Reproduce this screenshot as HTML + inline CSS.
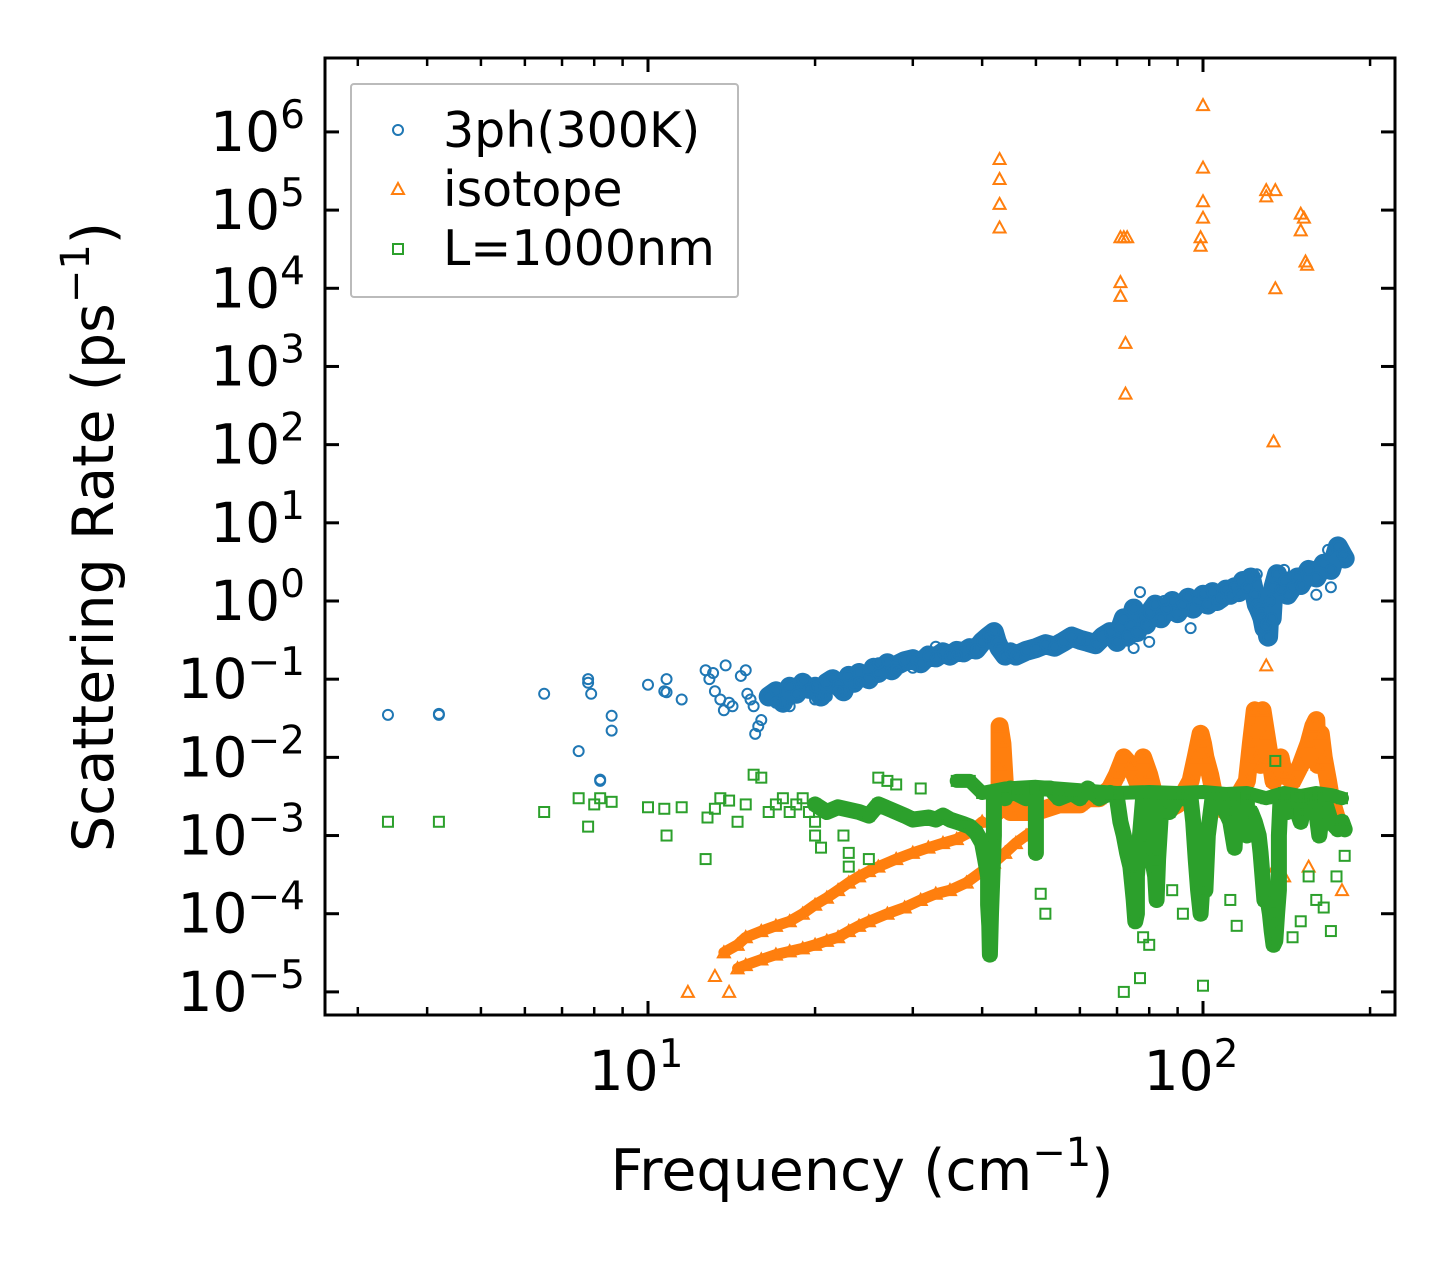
<!DOCTYPE html>
<html><head><meta charset="utf-8"><style>
html,body{margin:0;padding:0;background:#fff;}
svg{display:block;font-family:"DejaVu Sans","Liberation Sans",sans-serif;}
</style></head><body>
<svg id="chart" width="1455" height="1265" viewBox="0 0 1455 1265" xmlns="http://www.w3.org/2000/svg">
<rect width="1455" height="1265" fill="#fff"/>
<g id="marks"></g>
<g id="axes"></g>
<g>
<rect x="351" y="84" width="387" height="213" fill="#fff" stroke="#bbb" stroke-width="2" rx="3"/>
<circle cx="398" cy="130" r="5" fill="none" stroke="#1f77b4" stroke-width="2"/>
<text x="443" y="147" font-size="49">3ph(300K)</text>
<polygon points="398,183 404,194 392,194" fill="none" stroke="#ff7f0e" stroke-width="2"/>
<text x="443" y="206" font-size="49">isotope</text>
<rect x="393" y="244" width="10" height="10" fill="none" stroke="#2ca02c" stroke-width="2"/>
<text x="443" y="265" font-size="49">L=1000nm</text>
</g>
<text x="862" y="1190" font-size="57" text-anchor="middle">Frequency (cm<tspan font-size="40" dy="-24">−1</tspan><tspan dy="24">)</tspan></text>
<text transform="translate(113,537) rotate(-90)" font-size="57" text-anchor="middle">Scattering Rate (ps<tspan font-size="40" dy="-24">−1</tspan><tspan dy="24">)</tspan></text>
</svg>
<script>
const phScatter=[[3.4,0.035],[4.2,0.036],[4.2,0.035],[6.5,0.065],[7.5,0.012],[7.8,0.09],[7.8,0.1],[7.9,0.065],[8.2,0.005],[8.2,0.0052],[8.6,0.034],[8.6,0.022],[10,0.085],[10.7,0.07],[10.8,0.1],[10.8,0.068],[11.5,0.055],[12.7,0.13],[12.9,0.1],[13.1,0.12],[13.2,0.07],[13.5,0.055],[13.8,0.15],[13.7,0.04],[14,0.05],[14.2,0.045],[14.7,0.11],[15,0.13],[15.1,0.065],[15.3,0.055],[15.5,0.045],[15.6,0.02],[15.8,0.025],[16,0.03],[77,1.3],[168,4.5],[17,0.05],[18,0.045],[19,0.1],[20,0.055],[21,0.06],[22,0.07],[24,0.09],[26,0.16],[28,0.13],[30,0.14],[33,0.26],[36,0.2],[75,0.25],[80,0.3],[95,0.45],[85,1],[125,2.2],[140,2.5],[160,1.2],[170,1.5]];
const phDense=[[16.5,0.06],[17,0.07],[17.5,0.05],[18,0.08],[18.5,0.065],[19,0.09],[19.5,0.075],[20,0.08],[20.5,0.06],[21,0.09],[21.5,0.1],[22,0.085],[22.5,0.07],[23,0.11],[23.5,0.09],[24,0.12],[25,0.1],[25.5,0.14],[26,0.12],[27,0.16],[27.5,0.13],[28,0.15],[29,0.17],[30,0.18],[31,0.16],[32,0.2],[33,0.19],[34,0.22],[35,0.2],[36,0.23],[37,0.22],[38,0.25],[39,0.24],[40,0.3],[41,0.35],[42,0.4],[42.5,0.3],[43,0.25],[44,0.2],[45,0.22],[46,0.2],[48,0.23],[50,0.25],[52,0.28],[54,0.26],[56,0.3],[58,0.35],[60,0.32],[62,0.3],[64,0.28],[66,0.35],[68,0.4],[70,0.3],[71,0.45],[72,0.6],[73,0.35],[74,0.5],[75,0.8],[76,0.4],[78,0.6],[79,0.5],[80,0.7],[82,0.9],[84,0.6],[86,0.8],[88,1],[90,0.7],[92,0.9],[94,1.1],[96,0.8],[98,1],[100,1.2],[102,0.9],[104,1.3],[106,1],[108,1.1],[110,1.4],[112,1.2],[114,1.5],[116,1.3],[118,1.8],[120,1.5],[122,2],[124,1.2],[125,0.9],[126,0.8],[127,0.7],[128,0.6],[129,0.45],[130,0.5],[131,0.35],[132,1],[133,0.6],[134,1.5],[136,2.2],[138,1.4],[140,1.8],[142,1.2],[145,1.5],[148,2],[150,1.6],[155,2.5],[160,2],[165,3],[170,2.5],[175,5],[178,4],[180,3.5]];
const isoScatter=[[43,4.5e5],[43,2.5e5],[43,1.2e5],[43,6e4],[71,4.5e4],[72,4.5e4],[73,4.5e4],[71,1.2e4],[71,8e3],[72.5,2e3],[72.5,450],[100,2.2e6],[100,3.5e5],[100,1.3e5],[100,8e4],[99,4.5e4],[99,3.5e4],[130,1.8e5],[130,1.5e5],[135,1.8e5],[135,1e4],[134,110],[130,0.15],[150,9e4],[150,5.5e4],[152,8e4],[153,2.2e4],[154,2e4],[11.8,1e-5],[13.2,1.6e-5],[14,1e-5],[178,2e-4],[140,3e-4],[135,4e-4],[155,4e-4]];
const isoBranchA=[[13.7,3.2e-5],[14.5,4e-5],[15,5e-5],[16,6e-5],[17,7e-5],[18,8e-5],[19,1e-4],[20,1.3e-4],[21,1.6e-4],[22,2e-4],[23,2.5e-4],[24,3e-4],[25,3.5e-4],[26,4e-4],[28,5e-4],[30,6e-4],[32,7e-4],[34,8e-4],[36,9e-4],[38,1.1e-3],[40,1.5e-3]];
const isoBranchB=[[14.5,2e-5],[15,2.2e-5],[16,2.6e-5],[17,3e-5],[18,3.3e-5],[19,3.6e-5],[20,4e-5],[21,4.5e-5],[22,5e-5],[23,6e-5],[24,7e-5],[25,8e-5],[27,1e-4],[29,1.2e-4],[31,1.5e-4],[33,1.8e-4],[35,2e-4],[37.5,2.5e-4],[40,3.5e-4],[42,4.5e-4],[44,6e-4],[46,8e-4],[48,1e-3],[50,1.2e-3]];
const isoUpper=[[42.5,2e-3],[43,3e-3],[43,8e-3],[43,2.5e-2],[43.5,1.5e-2],[44,4e-3],[45,2e-3],[50,2e-3],[55,2.5e-3],[60,2.5e-3],[62,3e-3],[65,3e-3],[68,4e-3],[70,6e-3],[72,1e-2],[74,8e-3],[76,5e-3],[78,1e-2],[80,6e-3],[82,3e-3],[85,2e-3],[90,2.5e-3],[95,5e-3],[97,1e-2],[99,2e-2],[100,1.5e-2],[101,1e-2],[103,6e-3],[105,3e-3],[110,2e-3],[115,3e-3],[120,5e-3],[122,1.5e-2],[124,4e-2],[125,1e-2],[126,3e-2],[127,8e-3],[128,4e-2],[130,2e-2],[132,1e-2],[134,5e-3],[136,7e-3],[138,1e-2],[140,6e-3],[145,5e-3],[150,8e-3],[155,1.5e-2],[158,2.5e-2],[160,3e-2],[161,8e-3],[163,2e-2],[165,1e-2],[168,5e-3],[170,3e-3],[175,1.5e-3]];
const bdScatter=[[3.4,1.5e-3],[4.2,1.5e-3],[6.5,2e-3],[7.5,3e-3],[7.8,1.3e-3],[8,2.5e-3],[8.2,3e-3],[8.6,2.7e-3],[10,2.3e-3],[10.7,2.2e-3],[10.8,1e-3],[11.5,2.3e-3],[12.7,5e-4],[12.8,1.7e-3],[13.2,2.2e-3],[13.5,3e-3],[14,2.8e-3],[14.5,1.5e-3],[15,2.5e-3],[15.5,6e-3],[16,5.5e-3],[16.5,2e-3],[17,2.5e-3],[17.5,3e-3],[18,2e-3],[18.5,2.5e-3],[19,3e-3],[19.5,2e-3],[20,1.5e-3],[20,1e-3],[20.5,7e-4],[22.5,1e-3],[23,6e-4],[23,4e-4],[25,5e-4],[26,5.5e-3],[27,5e-3],[28,4.5e-3],[31,4e-3],[100,1.2e-5],[72,1e-5],[77,1.5e-5],[155,3e-4],[160,1.5e-4],[165,1.2e-4],[170,6e-5],[150,8e-5],[145,5e-5],[112,1.5e-4],[115,7e-5],[80,4e-5],[78,5e-5],[88,2e-4],[92,1e-4],[135,9e-3],[180,5.5e-4],[51,1.8e-4],[52,1e-4],[174,3e-4]];
const bdBand=[[20,2.5e-3],[21,2e-3],[22,2.3e-3],[24,2e-3],[25,1.8e-3],[26,2.5e-3],[28,2e-3],[29,1.8e-3],[30,1.6e-3],[32,1.7e-3],[33,1.6e-3],[34,1.8e-3],[35,1.6e-3],[36,1.5e-3],[37,1.4e-3],[38,1.3e-3],[39,1.1e-3],[40,8e-4],[40.5,5e-4],[41,3e-4],[41,1.3e-4],[41.2,7e-5],[41.3,3e-5],[41.5,1e-4],[42,1e-3],[42,3.5e-3],[44,3e-3],[45,4e-3],[46,3.5e-3],[48,3e-3],[50,4e-3],[50,6e-4],[50,4e-3],[53,4e-3],[55,3e-3],[58,3.5e-3],[60,3e-3],[62,4e-3],[65,3e-3],[68,3.5e-3],[70,3e-3],[71,1.5e-3],[72,1e-3],[73,6e-4],[74,4e-4],[74.5,2.5e-4],[75,1.5e-4],[75.5,8e-5],[76,1e-4],[76,3e-4],[77,1e-3],[78,3e-3],[80,3e-3],[80,1e-3],[81,5e-4],[82,3e-4],[82.5,1.5e-4],[83,5e-4],[84,2e-3],[85,3e-3],[87,2e-3],[90,3e-3],[92,3e-3],[95,3e-3],[96,1.5e-3],[97,5e-4],[98,2e-4],[99,1e-4],[100,3e-4],[101,2e-4],[102,1e-3],[104,3e-3],[106,3e-3],[108,3e-3],[110,2e-3],[112,1.5e-3],[114,7e-4],[115,3e-3],[118,3e-3],[120,3e-3],[120,1e-3],[122,2e-3],[124,1.5e-3],[126,1e-3],[127,6e-4],[128,3e-4],[129,1.5e-4],[130,2e-4],[132,1e-4],[133,6e-5],[134,4e-5],[135,4.5e-5],[136,1e-4],[137,2e-4],[137,1e-3],[138,3e-3],[140,3e-3],[142,2e-3],[145,3e-3],[148,2e-3],[150,1.5e-3],[152,2.5e-3],[155,3e-3],[158,3e-3],[160,2e-3],[162,1e-3],[165,3e-3],[168,2e-3],[170,1.5e-3],[175,1.2e-3],[178,1.5e-3],[180,1.2e-3]];
const bdUpper=[[36,5e-3],[38,5e-3],[40,3.5e-3],[44,4e-3],[50,4.2e-3],[60,3.8e-3],[70,3.5e-3],[80,3.6e-3],[90,3.5e-3],[100,3.6e-3],[110,3.4e-3],[120,3.5e-3],[130,3e-3],[140,3.5e-3],[150,3.2e-3],[160,3.5e-3],[170,3.3e-3],[178,3e-3]];
const xMajor=[10,100];
const xMinor=[3,4,5,6,7,8,9,20,30,40,50,60,70,80,90,200];
const yExps=[-5,-4,-3,-2,-1,0,1,2,3,4,5,6];

const L=325,R=1395,T=58,B=1015;
function X(f){return 648+555*(Math.log10(f)-1);}
function Y(v){return 601-78.18*Math.log10(v);}
const NS='http://www.w3.org/2000/svg';
const marks=document.getElementById('marks');
const axes=document.getElementById('axes');
function mk(tag,attrs,parent){const e=document.createElementNS(NS,tag);for(const k in attrs)e.setAttribute(k,attrs[k]);parent.appendChild(e);return e;}
const C={ph:'#1f77b4',iso:'#ff7f0e',bd:'#2ca02c'};
function dense(arr,color,w,name){
  const p=mk('polyline',{points:arr.map(d=>X(d[0]).toFixed(1)+','+Y(d[1]).toFixed(1)).join(' '),fill:'none',stroke:color,'stroke-width':w,'stroke-linejoin':'round','stroke-linecap':'round'},marks);
  
  
}
function pts(arr,kind,name){
  arr.forEach(d=>{
    const x=X(d[0]),y=Y(d[1]);let e;
    if(kind==='ph')e=mk('circle',{cx:x,cy:y,r:5,fill:'none',stroke:C.ph,'stroke-width':2},marks);
    else if(kind==='iso')e=mk('polygon',{points:`${x},${y-6} ${x+6},${y+5} ${x-6},${y+5}`,fill:'none',stroke:C.iso,'stroke-width':2},marks);
    else e=mk('rect',{x:x-5,y:y-5,width:10,height:10,fill:'none',stroke:C.bd,'stroke-width':2},marks);
    
    
  });
}
dense(phDense,C.ph,20,'3ph-dense-band');
pts(phDense,'ph','3ph-point');pts(phScatter,'ph','3ph-point');
dense(isoBranchA,C.iso,11,'isotope-branch-a');dense(isoBranchB,C.iso,11,'isotope-branch-b');dense(isoUpper,C.iso,18,'isotope-upper-band');
pts(isoBranchA,'iso','isotope-point');pts(isoBranchB,'iso','isotope-point');pts(isoUpper,'iso','isotope-point');pts(isoScatter,'iso','isotope-point');
dense(bdBand,C.bd,16,'boundary-dense-band');dense(bdUpper,C.bd,14,'boundary-upper-band');
pts(bdBand,'bd','boundary-point');pts(bdUpper,'bd','boundary-point');pts(bdScatter,'bd','boundary-point');

const fr=mk('rect',{x:L,y:T,width:R-L,height:B-T,fill:'none',stroke:'#000','stroke-width':3},axes);


xMajor.forEach(f=>{const x=X(f);
  const a=mk('line',{x1:x,x2:x,y1:B,y2:B-14,stroke:'#000','stroke-width':3},axes);
  
  
  const b=mk('line',{x1:x,x2:x,y1:T,y2:T+14,stroke:'#000','stroke-width':3},axes);
  
  
  const t=mk('text',{x:x-12,y:1090,'font-size':55,'text-anchor':'middle'},axes);
  
  
  t.innerHTML='10<tspan font-size="39" dy="-23">'+Math.round(Math.log10(f))+'</tspan>';
});
xMinor.forEach(f=>{const x=X(f);if(x<L||x>R)return;
  const a=mk('line',{x1:x,x2:x,y1:B,y2:B-8,stroke:'#000','stroke-width':2.5},axes);
  
  
  const b=mk('line',{x1:x,x2:x,y1:T,y2:T+8,stroke:'#000','stroke-width':2.5},axes);
  
  
});
yExps.forEach(e=>{const y=Y(Math.pow(10,e));
  const a=mk('line',{x1:L,x2:L+14,y1:y,y2:y,stroke:'#000','stroke-width':3},axes);
  
  
  const b=mk('line',{x1:R,x2:R-14,y1:y,y2:y,stroke:'#000','stroke-width':3},axes);
  
  
  const t=mk('text',{x:305,y:y+19,'font-size':55,'text-anchor':'end'},axes);
  
  
  t.innerHTML='10<tspan font-size="39" dy="-23">'+(e<0?'−'+(-e):e)+'</tspan>';
});
</script>
</body></html>
